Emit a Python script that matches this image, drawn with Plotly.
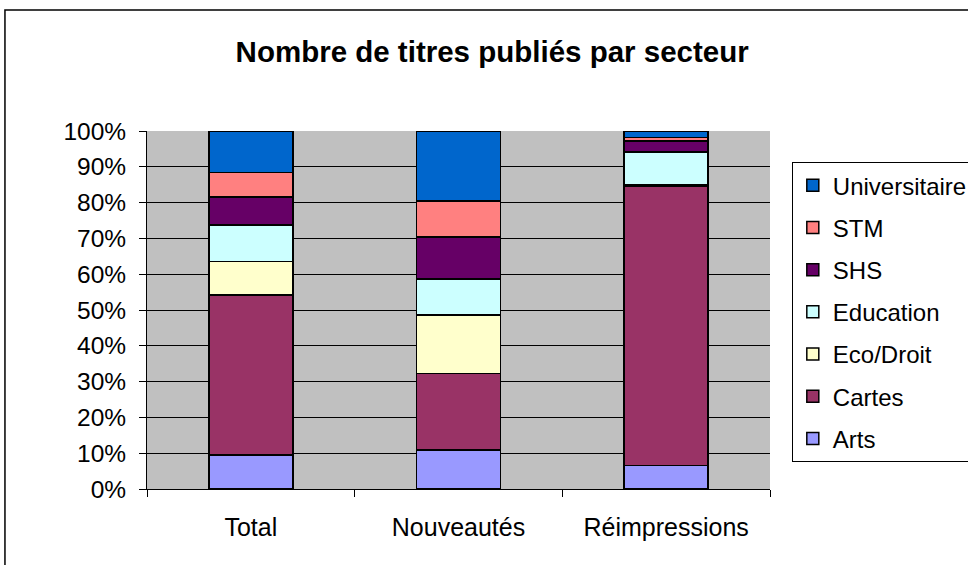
import plotly.graph_objects as go

# Share of titles per sector (percent of each column)
categories = ["Total", "Nouveautés", "Réimpressions"]
sectors = ["Arts", "Cartes", "Eco/Droit", "Education", "SHS", "STM", "Universitaire"]
arts = [9.5, 10.9, 6.5]
cartes = [44.7, 21.4, 78.0]
eco_droit = [9.4, 16.3, 0.4]
education = [10.1, 10.0, 9.3]
shs = [7.9, 11.8, 3.0]
stm = [6.8, 10.0, 1.0]
universitaire = [11.6, 19.6, 1.8]

values = [arts, cartes, eco_droit, education, shs, stm, universitaire]
colors = ["#9999FF", "#993366", "#FFFFCC", "#CCFFFF", "#660066", "#FF8080", "#0066CC"]

fig = go.Figure()
for i, (name, vals, col) in enumerate(zip(sectors, values, colors)):
    # top of the stack first in the legend
    fig.add_bar(x=categories, y=vals, name=name, legendgroup=name,
                legendrank=len(sectors) - i,
                marker=dict(color=col, line=dict(color="black", width=1.5)))

# figure is wider than the window so the legend box runs off the right edge
font = "Liberation Sans, Arial, sans-serif"
fig.update_layout(
    barmode="stack",
    bargap=0.595,
    width=1000, height=565,
    margin=dict(l=147, r=230, t=131, b=76),
    paper_bgcolor="white",
    plot_bgcolor="#C0C0C0",
    font=dict(family=font, size=25, color="black"),
    title=dict(text="<b>Nombre de titres publiés par secteur</b>",
               xref="paper", x=0.554, xanchor="center", y=0.908, yanchor="middle",
               font=dict(size=29.5, family=font)),
    legend=dict(traceorder="grouped", x=1.035, xanchor="left", y=0.913, yanchor="top",
                bordercolor="black", borderwidth=1, bgcolor="white",
                tracegroupgap=8, itemwidth=30, font=dict(size=24)),
    showlegend=True,
)
fig.update_yaxes(range=[0, 100], dtick=10, ticksuffix="%", showgrid=True,
                 gridcolor="black", gridwidth=1, showline=True, linecolor="black",
                 ticks="outside", ticklen=7, tickcolor="black", zeroline=False,
                 ticklabelstandoff=8, tickfont=dict(size=24.5))
fig.update_xaxes(showline=True, linecolor="black", ticks="outside", ticklen=7,
                 tickcolor="black", tickson="boundaries", showgrid=False,
                 ticklabelstandoff=16)

# chart frame
fig.add_shape(type="rect", xref="paper", yref="paper",
              x0=-0.228, x1=1.6, y0=-0.3, y1=1.338,
              line=dict(color="black", width=1.5), fillcolor="rgba(0,0,0,0)", layer="below")

fig.write_html("out.html", config={"displayModeBar": False},
               post_script="document.body.style.margin='0';document.body.style.overflow='hidden';")
